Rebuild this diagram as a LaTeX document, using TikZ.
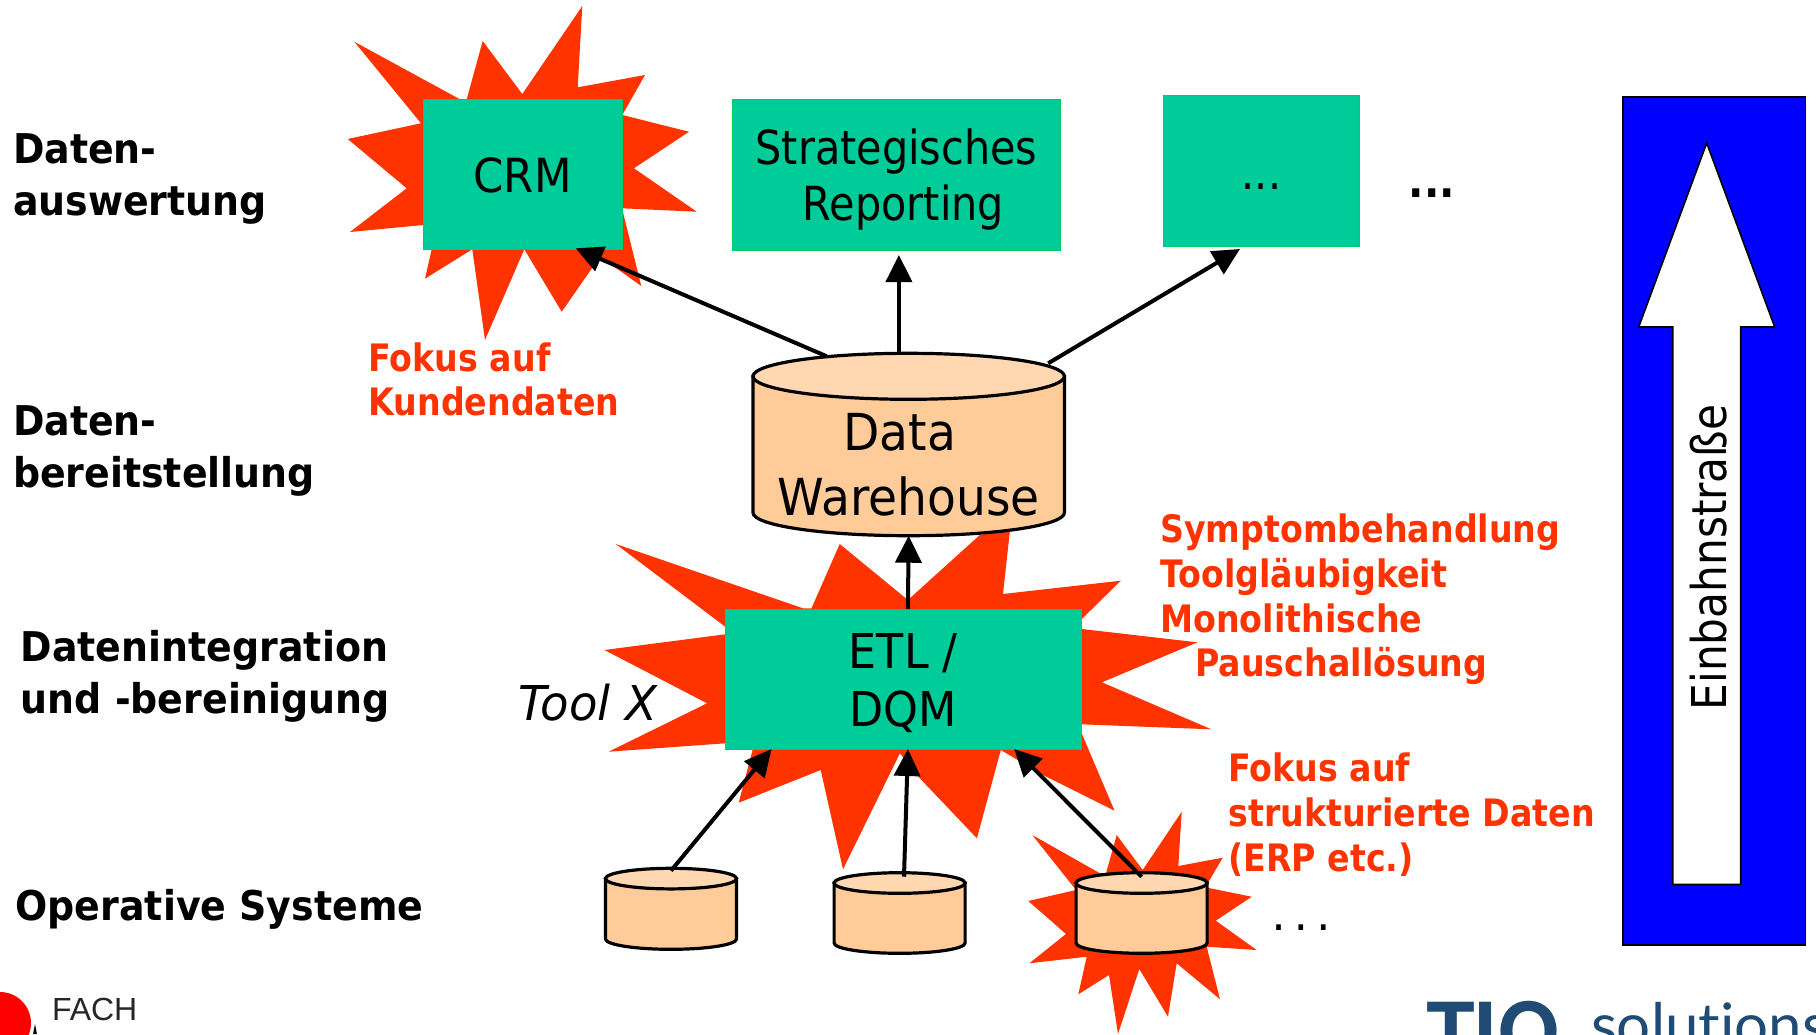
\documentclass[tikz,border=0pt]{standalone}
\usepackage{fontspec}
\usepackage{tikz}
\usetikzlibrary{calc, positioning, arrows.meta}
\setmainfont[FakeStretch=0.88]{DejaVu Sans}
\newfontfamily\widefont[FakeStretch=0.925]{DejaVu Sans}
\newfontfamily\toolfont[FakeStretch=0.97]{DejaVu Sans}
\newfontfamily\logohead{TeX Gyre Heros}
\newfontfamily\logotail[Ligatures=NoCommon]{Lato}
\newfontfamily\logofach{Liberation Sans}
\definecolor{starred}{HTML}{FF3300}
\definecolor{boxgreen}{HTML}{00CC99}
\definecolor{boxedge}{HTML}{00CC66}
\definecolor{dbbody}{HTML}{FFCC99}
\definecolor{dbtop}{HTML}{FFD8B2}
\definecolor{logoblue}{HTML}{1F4B75}

% name, centre x, top, bottom, half width, end radius
\newcommand{\datastore}[6]{
	\draw[dbline, fill=dbbody] ({#2-#5},{#3+#6}) -- ({#2-#5},{#4-#6}) arc[start angle=180, end angle=0, x radius=#5, y radius=#6] -- ({#2+#5},{#3+#6}) -- cycle;
	\draw[dbline, fill=dbtop] (#2,{#3+#6}) ellipse[x radius=#5, y radius=#6];
	\node[inner sep=0pt, minimum width={#5*1pt}, minimum height={(#4-#3)*0.5pt}] (#1) at (#2,{(#3+#4)/2}) {};
}

\begin{document}
\begin{tikzpicture}[
		x=0.5pt, y=-0.5pt,
		>={Triangle[length=13.5pt, width=13pt]},
		outer sep=0pt,
		flash/.style={fill=starred},
		layerlabel/.style={inner sep=0pt, anchor=base west, align=left, font=\widefont\bfseries\fontsize{20.5}{25.7}\selectfont},
		redlabel/.style={inner sep=0pt, anchor=base west, align=left, text=starred, font=\bfseries\fontsize{18.9}{22.3}\selectfont},
		greenbox/.style={draw=boxedge, line width=0.5pt, fill=boxgreen, inner sep=0pt, align=center},
		dbline/.style={draw=black, line width=1.6pt},
		flow/.style={->, line width=2pt}
	]
	\path[use as bounding box, clip] (0,0) rectangle (1816,1034);

	% bursts behind the boxes
	\fill[flash] (582.3,6) -- (577.7,87.3) -- (645,75) -- (622.3,115) -- (689,131.7) -- (634,168.3) -- (696.7,211.7) -- (622,208.3) -- (641.3,286) -- (600,256.7) -- (561.7,311.7) -- (524.3,249.3) -- (485,340) -- (472.3,249.3) -- (425,278.7) -- (431.7,249.3) -- (423.3,225) -- (350,232) -- (406.7,188.3) -- (347.7,139) -- (421,123.3) -- (354.3,41.7) -- (460,99.3) -- (466.7,99.3) -- (482.7,41) -- (522.3,94) -- cycle;
	\fill[flash] (615.8,544) -- (803,608.3) -- (811.5,608.3) -- (839.7,544) -- (907.9,600) -- (979.8,535) -- (1010,530) -- (1003,594) -- (1120.8,580.7) -- (1080.8,620) -- (1081.7,629) -- (1197.4,642.3) -- (1101.9,682.3) -- (1211.3,729.3) -- (1081.7,724.3) -- (1081.7,733.3) -- (1114.5,810.7) -- (1043,775) -- (1000.8,750) -- (976.9,838.3) -- (916.7,775) -- (899.9,753.3) -- (843,869.3) -- (820.7,770) -- (738.7,802.7) -- (752.6,750) -- (725.2,743.3) -- (608.6,751.7) -- (707.1,703.3) -- (604.4,650) -- (725.2,634.3) -- (725.2,626.7) -- cycle;
	\fill[flash] (1181.7,811.7) -- (1178.3,866) -- (1222.7,857.7) -- (1207.3,884) -- (1207.3,887.7) -- (1251.7,896.7) -- (1215.7,920.7) -- (1256.7,950) -- (1206.7,946.7) -- (1220,999.3) -- (1176.7,963.3) -- (1168,1016.7) -- (1139.3,969) -- (1118,1034) -- (1109,975) -- (1078.3,994.3) -- (1086.7,956.7) -- (1029.3,963.3) -- (1066,934) -- (1028.3,901) -- (1076,890) -- (1032.3,835) -- (1100,873.3) -- (1106,873.3) -- (1116.7,835) -- (1142.7,870) -- cycle;

	% layer names
	\node[layerlabel] (evalname) at (13,215) {Daten-\\auswertung};
	\node[layerlabel] (dwname) at (13,487.3) {Daten-\\bereitstellung};
	\node[layerlabel] (etlname) at (20.7,713) {Datenintegration\\und -bereinigung};
	\node[layerlabel] (opname) at (15.5,920) {Operative Systeme};

	% boxes
	\node[greenbox, minimum width=99.4pt, minimum height=75pt, font=\widefont\fontsize{23.5}{29}\selectfont] (crm) at (522.6,174.3) {\rule{0pt}{18.3pt}CRM};
	\node[greenbox, minimum width=164.4pt, minimum height=75.4pt, font=\fontsize{23.5}{28.3}\selectfont] (strat) at (896.5,174.6) {\rule{0pt}{22.6pt}Strategisches\\\hspace*{7pt}Reporting};
	\node[greenbox, minimum width=98pt, minimum height=75.4pt, font=\fontsize{23.5}{29}\selectfont] (more) at (1261.5,171.3) {\rule{0pt}{17.7pt}...};
	\node[font=\bfseries\fontsize{23}{28}\selectfont, inner sep=0pt, anchor=base] (moredots) at (1432,197) {...};
	\node[greenbox, minimum width=178.2pt, minimum height=70pt, font=\widefont\fontsize{24}{29.3}\selectfont] (etl) at (903.4,679) {\rule{0pt}{21.5pt}ETL /\\DQM};
	\node[inner sep=0pt, anchor=base west, font=\toolfont\itshape\fontsize{24}{29}\selectfont] (toolx) at (518,720.7) {Tool X};

	% data stores
	\datastore{dw}{908.7}{353.3}{535.7}{155.7}{23}
	\node[inner sep=0pt, anchor=base, align=center, font=\widefont\fontsize{25.5}{32.1}\selectfont] (dwtext) at (908.7,515) {Data\hspace*{9pt}\\Warehouse};
	\datastore{srcA}{671}{868.3}{949.3}{65.5}{10.3}
	\datastore{srcB}{899.6}{872.7}{953.3}{65.5}{10.3}
	\datastore{srcC}{1141.6}{872.7}{953.3}{65.5}{10.3}
	\node[font=\bfseries\fontsize{15}{18}\selectfont, inner sep=0pt, anchor=base] (srcdots) at (1301,930) {. . .};

	% flows
	\draw[flow] ($(srcA.north)+(0,2.4)$) -- ($(etl.south west)+(46.3,0)$);
	\draw[flow] ($(srcB.north)+(4.4,4)$) -- ($(etl.south)+(4.5,0)$);
	\draw[flow] ($(srcC.north)+(0,4)$) -- ($(etl.south east)+(-67.4,0)$);
	\draw[flow] ($(etl.north)+(4.5,0)$) -- (dw.south);
	\draw[flow] ($(dw.north)+(-82,3)$) -- ($(crm.south east)+(-46.3,-1)$);
	\draw[flow] ($(dw.north)+(-9.8,0)$) -- ($(strat.south)+(2.4,5)$);
	\draw[flow] ($(dw.north)+(139.5,10)$) -- ($(more.south)+(-21.5,2.3)$);

	% remarks
	\node[redlabel] (crmnote) at (368.5,415.7) {Fokus auf\\Kundendaten};
	\node[redlabel] (etlnote) at (1160.3,676.7) {Symptombehandlung\\Toolgläubigkeit\\Monolithische\\\hspace*{17.5pt}Pauschallösung};
	\node[redlabel] (srcnote) at (1228.3,871) {Fokus auf\\strukturierte Daten\\(ERP etc.)};

	% one way sign
	\node[draw, line width=0.8pt, fill=blue, minimum width=91.3pt, minimum height=424pt, inner sep=0pt] (sign) at (1714,521) {};
	\draw[draw=black, line width=0.8pt, fill=white] (1706.7,143) -- (1774.7,327) -- (1740.7,327) -- (1740.7,884.5) -- (1672.7,884.5) -- (1672.7,327) -- (1638.7,327) -- cycle;
	\node[rotate=90, inner sep=0pt, anchor=base, font=\fontsize{24}{29}\selectfont] (oneway) at (1726,557.5) {Einbahnstraße};

	% logos at the edge
	\fill[red] (0,1023) circle (31);
	\fill[black] (35,1024) -- (37,1034) -- (33,1034) -- cycle;
	\node[inner sep=0pt, anchor=base west, text=black!85, font=\logofach\fontsize{16}{20}\selectfont] (fach) at (52,1020) {FACH};
	\node[inner sep=0pt, anchor=base west, text=logoblue, font=\logohead\bfseries\fontsize{40}{48}\selectfont] (tiq) at (1426,1060) {TIQ};
	\node[inner sep=0pt, anchor=base west, text=logoblue, font=\logotail\fontsize{30}{36}\selectfont] (tiqtail) at (1591,1046) {solutions};
\end{tikzpicture}
\end{document}
